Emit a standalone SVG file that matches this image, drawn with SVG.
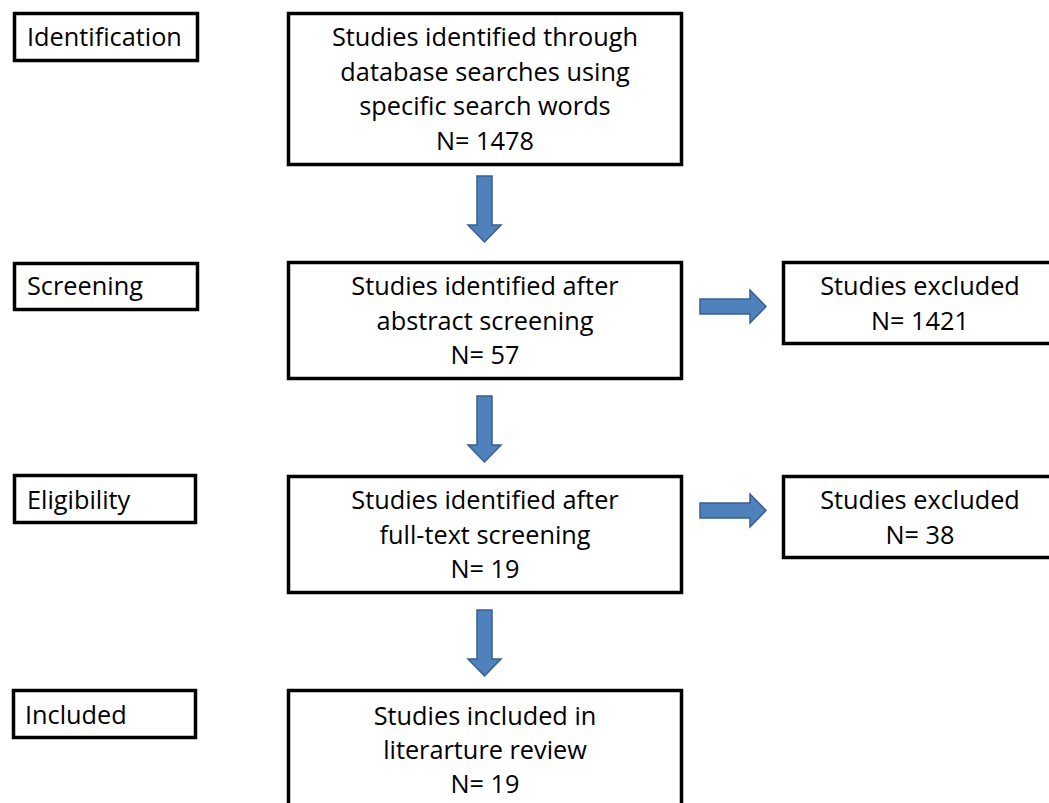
<svg xmlns="http://www.w3.org/2000/svg" width="1049" height="803" viewBox="0 0 1049 803">
<style>
.box{fill:#fff;stroke:#000;stroke-width:3.5}
.t{font-family:"Open Sans","Liberation Sans",sans-serif;font-size:25.3px;fill:#000}
.c{text-anchor:middle}
.arr{fill:#4f81bd;stroke:#3a5f8c;stroke-width:1.5;stroke-linejoin:miter}
</style>
<rect width="1049" height="803" fill="#fff"/>
<g id="label-identification">
<rect class="box" x="14.5" y="13.5" width="183" height="47"/>
<text class="t" x="27" y="46">Identification</text>
</g>
<g id="label-screening">
<rect class="box" x="14.5" y="263.5" width="183" height="46"/>
<text class="t" x="27" y="295">Screening</text>
</g>
<g id="label-eligibility">
<rect class="box" x="14.5" y="475.5" width="181" height="47"/>
<text class="t" x="27" y="509">Eligibility</text>
</g>
<g id="label-included">
<rect class="box" x="13.5" y="690.5" width="182" height="47"/>
<text class="t" x="25" y="724">Included</text>
</g>
<g id="box-identified">
<rect class="box" x="288.5" y="13.5" width="393" height="151"/>
<text class="t c" x="485" y="46">Studies identified through</text>
<text class="t c" x="485" y="81">database searches using</text>
<text class="t c" x="485" y="115">specific search words</text>
<text class="t c" x="485" y="150">N= 1478</text>
</g>
<g id="box-abstract">
<rect class="box" x="288.5" y="262.5" width="393" height="116"/>
<text class="t c" x="485" y="295">Studies identified after</text>
<text class="t c" x="485" y="330">abstract screening</text>
<text class="t c" x="485" y="364">N= 57</text>
</g>
<g id="box-excluded-1">
<rect class="box" x="783.5" y="262.5" width="280" height="81"/>
<text class="t c" x="920" y="295">Studies excluded</text>
<text class="t c" x="920" y="330">N= 1421</text>
</g>
<g id="box-fulltext">
<rect class="box" x="288.5" y="476.5" width="393" height="116"/>
<text class="t c" x="485" y="509">Studies identified after</text>
<text class="t c" x="485" y="544">full-text screening</text>
<text class="t c" x="485" y="578">N= 19</text>
</g>
<g id="box-excluded-2">
<rect class="box" x="783.5" y="476.5" width="280" height="81"/>
<text class="t c" x="920" y="509">Studies excluded</text>
<text class="t c" x="920" y="544">N= 38</text>
</g>
<g id="box-included">
<rect class="box" x="288.5" y="690.5" width="393" height="130"/>
<text class="t c" x="485" y="725">Studies included in</text>
<text class="t c" x="485" y="759">literarture review</text>
<text class="t c" x="485" y="793">N= 19</text>
</g>
<g id="connectors">
<path class="arr" d="M477,176 H492 V225 H501 L484.5,242 L468,225 H477 Z"/>
<path class="arr" d="M477,396 H492 V445 H501 L484.5,462 L468,445 H477 Z"/>
<path class="arr" d="M477,610 H492 V659 H501 L484.5,676 L468,659 H477 Z"/>
<path class="arr" d="M700,299 H750 V290 L766,306.5 L750,323 V314 H700 Z"/>
<path class="arr" d="M700,503 H750 V494 L766,510.5 L750,527 V518 H700 Z"/>
</g>
</svg>
